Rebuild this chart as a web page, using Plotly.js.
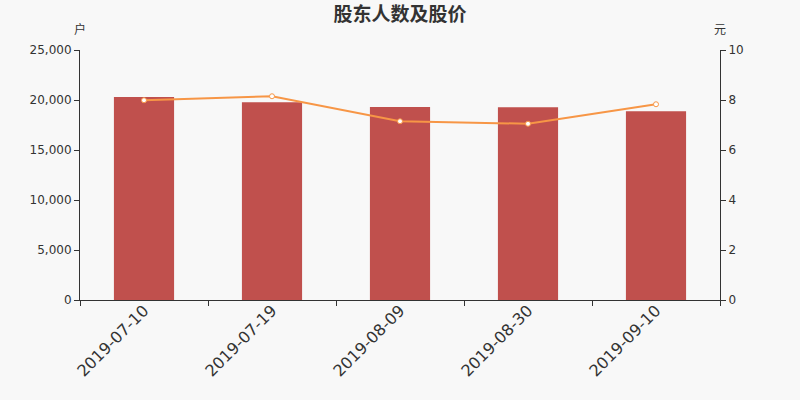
<!DOCTYPE html>
<html>
<head>
<meta charset="utf-8">
<script src="https://cdn.plot.ly/plotly-3.0.1.min.js"></script>
<style>
	body { margin: 0; background: #f8f8f8; }
	#chart { width: 800px; height: 400px; }
</style>
</head>
<body>
<div id="chart"></div>
<script>
// 股东人数 (户) and 股价 (元) per report date
var dates = ['2019-07-10', '2019-07-19', '2019-08-09', '2019-08-30', '2019-09-10'];
var holders = [20300, 19770, 19300, 19270, 18870];
var prices = [7.99, 8.15, 7.15, 7.05, 7.83];

var axisFont = {
	family: 'DejaVu Sans, sans-serif',
	size: 12,
	color: '#333333'
};

var unitFont = {
	family: 'Noto Sans CJK SC, sans-serif',
	size: 12,
	color: '#333333'
};

var bars = {
	x: dates,
	y: holders,
	name: '股东人数',
	type: 'bar',
	marker: {
		color: '#c0504d'
	},
	hoverinfo: 'none'
};

var priceLine = {
	x: dates,
	y: prices,
	name: '股价',
	yaxis: 'y2',
	mode: 'lines+markers',
	line: {
		color: '#f79646',
		width: 2
	},
	marker: {
		size: 5,
		color: '#ffffff',
		line: {
			color: '#f79646',
			width: 1
		}
	},
	hoverinfo: 'none'
};

var layout = {
	width: 800,
	height: 400,
	showlegend: false,
	hovermode: false,
	paper_bgcolor: '#f8f8f8',
	plot_bgcolor: '#f8f8f8',
	bargap: 0.53,
	margin: {
		l: 80,
		r: 80,
		t: 50,
		b: 100
	},
	title: {
		text: '<b>股东人数及股价</b>',
		x: 0.5,
		y: 0.965,
		yanchor: 'middle',
		font: {
			family: 'Noto Sans CJK SC, sans-serif',
			size: 19,
			color: '#333333'
		}
	},
	xaxis: {
		type: 'category',
		showgrid: false,
		zeroline: false,
		showline: true,
		linecolor: '#333333',
		linewidth: 1,
		ticks: 'outside',
		tickson: 'boundaries',
		ticklen: 5,
		tickcolor: '#333333',
		tickangle: -45,
		ticklabelstandoff: -6,
		tickfont: {
			family: 'DejaVu Sans, sans-serif',
			size: 16,
			color: '#333333'
		}
	},
	yaxis: {
		range: [0, 25000],
		dtick: 5000,
		tickformat: ',d',
		showgrid: false,
		zeroline: false,
		showline: true,
		linecolor: '#333333',
		ticks: 'outside',
		ticklen: 5,
		tickcolor: '#333333',
		tickfont: axisFont
	},
	yaxis2: {
		overlaying: 'y',
		side: 'right',
		range: [0, 10],
		dtick: 2,
		showgrid: false,
		zeroline: false,
		showline: true,
		linecolor: '#333333',
		ticks: 'outside',
		ticklen: 5,
		tickcolor: '#333333',
		tickfont: axisFont
	},
	annotations: [
		{
			text: '户',
			xref: 'paper',
			yref: 'paper',
			x: 0,
			y: 1.085,
			xanchor: 'center',
			yanchor: 'middle',
			showarrow: false,
			font: unitFont
		},
		{
			text: '元',
			xref: 'paper',
			yref: 'paper',
			x: 1,
			y: 1.085,
			xanchor: 'center',
			yanchor: 'middle',
			showarrow: false,
			font: unitFont
		}
	]
};

Plotly.newPlot('chart', [bars, priceLine], layout, {displayModeBar: false, staticPlot: true});
</script>
</body>
</html>
